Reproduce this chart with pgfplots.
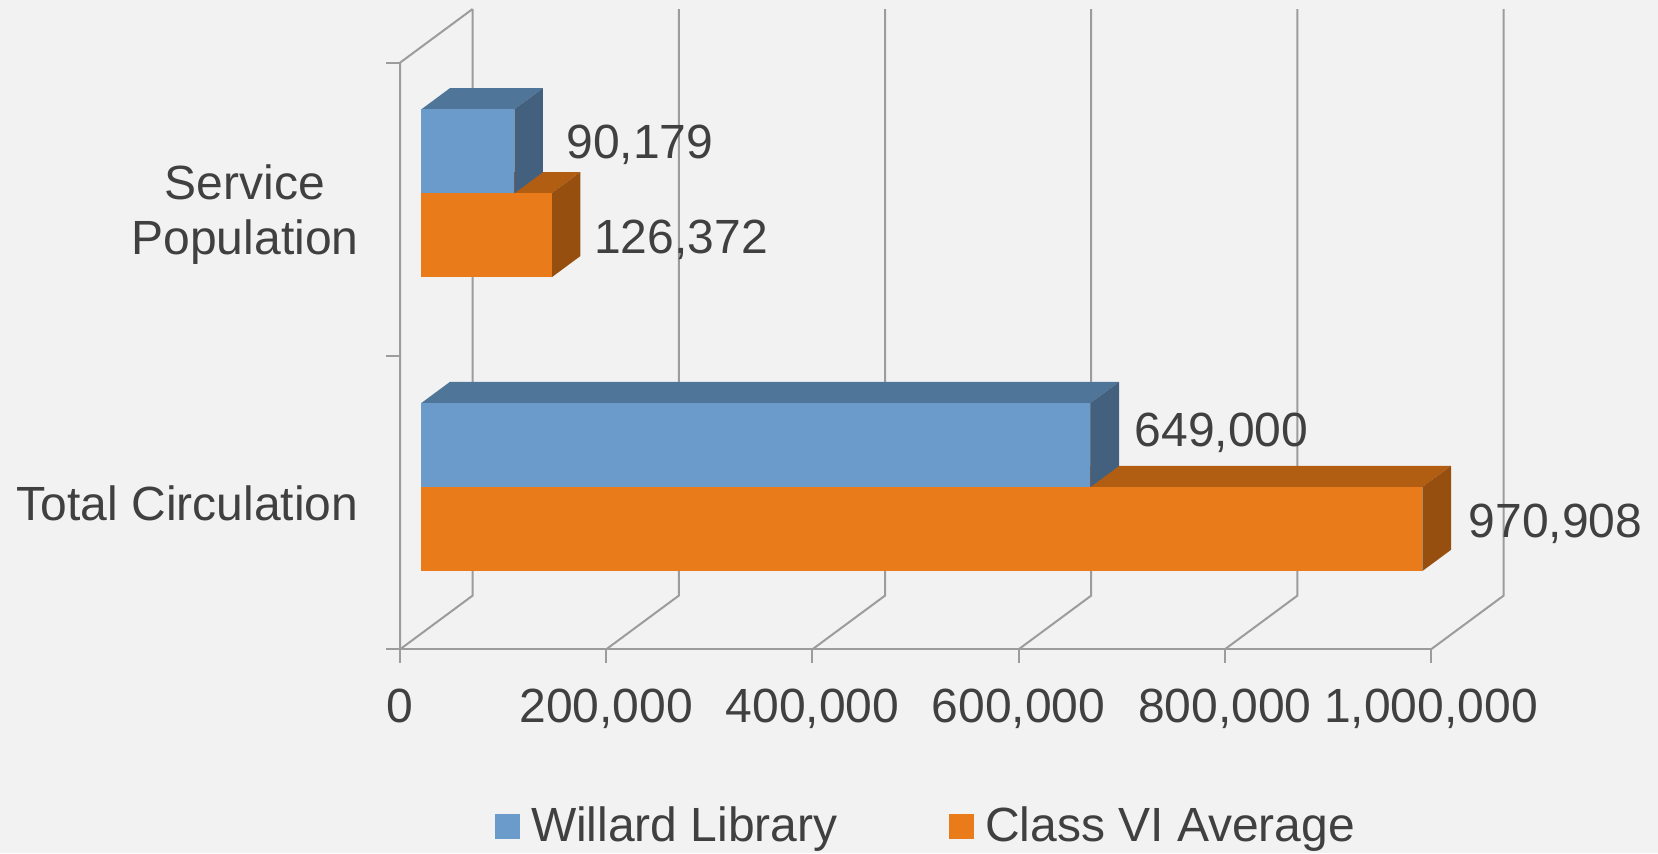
\documentclass[border=0pt]{standalone}
\usepackage{pgfplots}
\pgfplotsset{compat=1.18}
\usepackage{pgfplotstable}
\usepackage{fontspec}
\setmainfont{Liberation Sans}
\definecolor{bg}{HTML}{F2F2F2}
\definecolor{txt}{HTML}{404040}
\definecolor{gridc}{HTML}{9C9C9C}
\definecolor{bfront}{HTML}{6A9BCB}
\definecolor{btop}{HTML}{4F7599}
\definecolor{bside}{HTML}{43617F}
\definecolor{ofront}{HTML}{E97B1A}
\definecolor{otop}{HTML}{B25E12}
\definecolor{oside}{HTML}{964F0E}
\newcommand\fs{\fontsize{14.4}{17}\selectfont}
\pgfplotstableread{
u d h
0 0 0
1 0 0
1 0 1
0 0 1
}\frontface
\pgfplotstableread{
u d h
0 0 1
1 0 1
1 1 1
0 1 1
}\topface
\pgfplotstableread{
u d h
1 0 0
1 1 0
1 1 1
1 0 1
}\sideface
% #1 value, #2 bottom (front plane), #3 front, #4 top, #5 side colour
\newcommand\barbox[5]{%
  \addplot[fill=#4, draw=none, forget plot] table[x expr={\thisrow{u}*#1+(0.2934+0.3953*\thisrow{d})*70417}, y expr={#2+84*\thisrow{h}+(0.2934+0.3953*\thisrow{d})*53.7}] {\topface};
  \addplot[fill=#5, draw=none, forget plot] table[x expr={\thisrow{u}*#1+(0.2934+0.3953*\thisrow{d})*70417}, y expr={#2+84*\thisrow{h}+(0.2934+0.3953*\thisrow{d})*53.7}] {\sideface};
  \addplot[fill=#3, draw=none, forget plot] table[x expr={\thisrow{u}*#1+(0.2934+0.3953*\thisrow{d})*70417}, y expr={#2+84*\thisrow{h}+(0.2934+0.3953*\thisrow{d})*53.7}] {\frontface};
}
\begin{document}
\begin{tikzpicture}
\begin{axis}[
  scale only axis, width=497.4pt, height=255.9pt,
  xmin=-387973, xmax=1220175, ymin=0, ymax=853,
  hide axis, clip=false,
  gl/.style={draw=gridc, line width=0.6pt, forget plot},
  legend image code/.code={\fill[#1] (0pt,0.72pt) rectangle (7.5pt,8.22pt);},
  legend columns=2,
  legend style={at={(axis cs:92144,-0.3)}, anchor=south west, draw=none, fill=none,
    inner sep=0pt, outer sep=0pt, font=\fs, text=txt,
    cells={anchor=base west, inner sep=0pt},
    /tikz/every odd column/.append style={column sep=1.3pt},
    /tikz/every even column/.append style={column sep=31.4pt}},
]
\fill[bg] (rel axis cs:0,0) rectangle (rel axis cs:1,1);
% back wall + floor gridlines
\addplot[gl] coordinates {(0,203.7) (70417,257.4) (70417,844)};
\addplot[gl] coordinates {(200000,203.7) (270417,257.4) (270417,844)};
\addplot[gl] coordinates {(400000,203.7) (470417,257.4) (470417,844)};
\addplot[gl] coordinates {(600000,203.7) (670417,257.4) (670417,844)};
\addplot[gl] coordinates {(800000,203.7) (870417,257.4) (870417,844)};
\addplot[gl] coordinates {(1000000,203.7) (1070417,257.4) (1070417,844)};
% side wall
\addplot[gl] coordinates {(0,203.7) (0,790.3) (70417,844)};
% axis lines and ticks
\addplot[gl] coordinates {(-13580,203.7) (1000000,203.7)};
\addplot[gl] coordinates {(-13580,790.3) (0,790.3)};
\addplot[gl] coordinates {(-13580,497) (0,497)};
\addplot[gl] coordinates {(0,203.7) (0,189.7)};
\addplot[gl] coordinates {(200000,203.7) (200000,189.7)};
\addplot[gl] coordinates {(400000,203.7) (400000,189.7)};
\addplot[gl] coordinates {(600000,203.7) (600000,189.7)};
\addplot[gl] coordinates {(800000,203.7) (800000,189.7)};
\addplot[gl] coordinates {(1000000,203.7) (1000000,189.7)};
% bars: Service Population
\barbox{126372}{559.9}{ofront}{otop}{oside}
\barbox{90179}{643.9}{bfront}{btop}{bside}
% bars: Total Circulation
\barbox{970908}{266.2}{ofront}{otop}{oside}
\barbox{649000}{350.2}{bfront}{btop}{bside}
% legend
\addlegendimage{fill=bfront, draw=none}
\addlegendentry{Willard Library}
\addlegendimage{fill=ofront, draw=none}
\addlegendentry{Class VI Average}
% texts
\begin{scope}[every node/.style={font=\fs, text=txt, inner sep=0pt}]
\node[anchor=base] at (axis cs:0,130.7) {0};
\node[anchor=base] at (axis cs:200000,130.7) {200,000};
\node[anchor=base] at (axis cs:400000,130.7) {400,000};
\node[anchor=base] at (axis cs:600000,130.7) {600,000};
\node[anchor=base] at (axis cs:800000,130.7) {800,000};
\node[anchor=base] at (axis cs:1000000,130.7) {1,000,000};
\node[anchor=base] at (axis cs:-150339,653.7) {Service};
\node[anchor=base] at (axis cs:-150339,598.7) {Population};
\node[anchor=base east] at (axis cs:-39767,333) {Total Circulation};
\node[anchor=base west] at (axis cs:160718,694.7) {90,179};
\node[anchor=base west] at (axis cs:187779,599.7) {126,372};
\node[anchor=base west] at (axis cs:711930,406.3) {649,000};
\node[anchor=base west] at (axis cs:1035887,315.3) {970,908};
\end{scope}
\end{axis}
\end{tikzpicture}
\end{document}
